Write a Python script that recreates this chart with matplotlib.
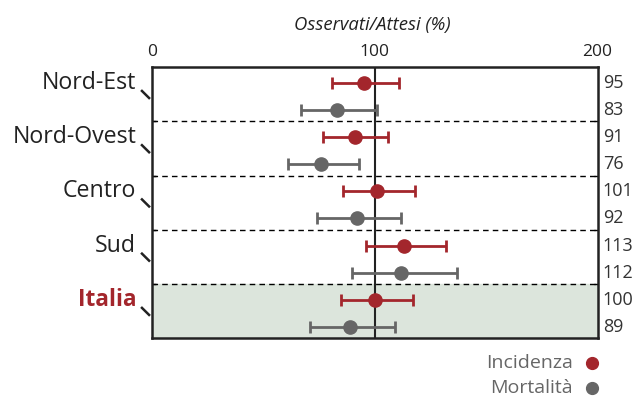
import matplotlib
matplotlib.use("Agg")
from matplotlib import pyplot as plt
from matplotlib import transforms

plt.rcParams["font.family"] = ["Open Sans", "DejaVu Sans"]

regions = ["Nord-Est", "Nord-Ovest", "Centro", "Sud", "Italia"]
inc_val = [95, 91, 101, 113, 100]
inc_lo = [81, 77, 86, 96, 85]
inc_hi = [111, 106, 118, 132, 117]
mort_val = [83, 76, 92, 112, 89]
mort_lo = [67, 61, 74, 90, 71]
mort_hi = [101, 93, 112, 137, 109]
x_ticks = [0, 100, 200]
legend_labels = ["Incidenza", "Mortalità"]

RED = "#a3262c"
GRAY = "#666666"
BAND = "#dce5dc"

fig = plt.figure(figsize=(6.35, 3.97), dpi=100)
ax = fig.add_axes([0.239, 0.148, 0.702, 0.683])

n = len(regions)
y_inc = [i + 0.29 for i in range(n)]
y_mort = [i + 0.79 for i in range(n)]

# Italia band
ax.axhspan(n - 1, n, color=BAND, zorder=0)

# separators
for i in range(1, n):
    ax.axhline(i, color="black", lw=1, ls=(0, (4, 3)), zorder=1)

ax.axvline(100, color="#222222", lw=1.5, zorder=2)

err_inc = [[v - l for v, l in zip(inc_val, inc_lo)], [h - v for v, h in zip(inc_val, inc_hi)]]
err_mort = [[v - l for v, l in zip(mort_val, mort_lo)], [h - v for v, h in zip(mort_val, mort_hi)]]

ax.errorbar(inc_val, y_inc, xerr=err_inc, fmt="o", color=RED, ms=9.5,
            elinewidth=2, capsize=4.5, capthick=2, zorder=3)
ax.errorbar(mort_val, y_mort, xerr=err_mort, fmt="o", color=GRAY, ms=9.5,
            elinewidth=2, capsize=4.5, capthick=2, zorder=3)

ax.set_xlim(0, 200)
ax.set_ylim(n, 0)
ax.xaxis.tick_top()
ax.set_xticks(x_ticks)
ax.tick_params(axis="x", length=0, labelsize=12.5, pad=5, labelcolor="#222222")
ax.set_yticks(range(1, n))
ax.set_yticklabels([])
ax.tick_params(axis="y", direction="in", length=3, left=True, right=True, width=1)
for s in ax.spines.values():
    s.set_linewidth(1.8)
    s.set_color("#222222")

trans = transforms.blended_transform_factory(ax.transAxes, ax.transData)
for i, name in enumerate(regions):
    is_it = name == "Italia"
    ax.text(-0.035, y_inc[i], name, transform=trans, ha="right", va="center",
            fontsize=16.7 if not is_it else 16.3, color=RED if is_it else "#222222",
            fontweight="bold" if is_it else "normal")
    ax.plot([-0.022, -0.006], [i + 0.44, i + 0.57], transform=trans,
            color="#222222", lw=1.8, clip_on=False)
    ax.text(1.012, y_inc[i], str(inc_val[i]), transform=trans, ha="left",
            va="center", fontsize=13, color="#333333")
    ax.text(1.012, y_mort[i], str(mort_val[i]), transform=trans, ha="left",
            va="center", fontsize=13, color="#333333")

fig.text(0.587, 0.938, "Osservati/Attesi (%)", ha="center", va="center",
         fontsize=13.3, style="italic", color="#222222")

# legend, marker after text
for label, col, yf in zip(legend_labels, [RED, GRAY], [1 - 363 / 397, 1 - 388 / 397]):
    fig.text(0.902, yf, label, ha="right", va="center", fontsize=14, color=GRAY)
    ax.plot([0.932], [yf], transform=fig.transFigure, marker="o", ms=8.5,
            color=col, ls="none", clip_on=False)

fig.savefig("out.png", dpi=100)
